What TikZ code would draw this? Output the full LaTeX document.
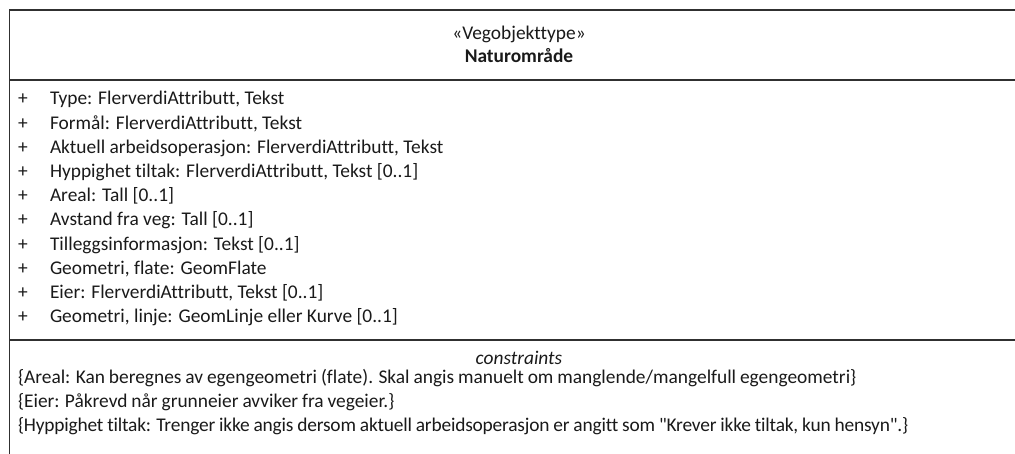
\documentclass[tikz,border=0pt]{standalone}
\usepackage{fontspec}
\setmainfont[Ligatures={TeXOff,NoCommon,NoContextual}]{Carlito}
\definecolor{umltext}{HTML}{1A1A1A}
\definecolor{umlline}{HTML}{303030}
\newcommand{\tightsp}{\spaceskip=3.9pt\relax}
\begin{document}
\begin{tikzpicture}[x=1pt,y=-1pt,
  txt/.style={inner sep=0pt,outer sep=0pt,text=umltext,font=\fontsize{19.4pt}{24pt}\selectfont},
  attr/.style={txt,anchor=base west},
  mid/.style={txt,anchor=base},
  border/.style={draw=umlline,line width=1.3pt}]
\useasboundingbox (0,0) rectangle (1015,454);
\clip (0,0) rectangle (1015,454);
\fill[white] (0,0) rectangle (1015,454);
% class box
\coordinate (tl) at (9.5,10);
\coordinate (tr) at (1030,10);
\coordinate (bl) at (9.5,470);
\coordinate (s1l) at (9.5,80);
\coordinate (s1r) at (1030,80);
\coordinate (s2l) at (9.5,340);
\coordinate (s2r) at (1030,340);
\draw[border] (bl) -- (tl) -- (tr);
\draw[border] (s1l) -- (s1r);
\draw[border] (s2l) -- (s2r);
% header
\node[mid] (stereo) at (519,40) {«Vegobjekttype»};
\node[mid,font=\fontsize{19.4pt}{24pt}\selectfont\bfseries] (name) at (519,62.5) {Naturområde};
% attributes
\foreach \i/\t in {0/{Type: FlerverdiAttributt, Tekst},
  1/{Formål: FlerverdiAttributt, Tekst},
  2/{Aktuell arbeidsoperasjon: FlerverdiAttributt, Tekst},
  3/{Hyppighet tiltak: FlerverdiAttributt, Tekst [0..1]},
  4/{Areal: Tall [0..1]},
  5/{Avstand fra veg: Tall [0..1]},
  6/{Tilleggsinformasjon: Tekst [0..1]},
  7/{Geometri, flate: GeomFlate},
  8/{Eier: FlerverdiAttributt, Tekst [0..1]},
  9/{Geometri, linje: GeomLinje eller Kurve [0..1]}}{
  \node[attr] (plus\i) at (18,105+24.2*\i) {+};
  \node[attr] (attr\i) at (50,105+24.2*\i) {\t};
}
% constraints
\node[mid,font=\fontsize{19.4pt}{24pt}\selectfont\itshape] (constr) at (519,365) {constraints};
\node[attr] (c1) at (18,383) {\tightsp\{Areal: Kan beregnes av egengeometri (flate). Skal angis manuelt om manglende/mangelfull egengeometri\}};
\node[attr] (c2) at (18,407) {\tightsp\{Eier: Påkrevd når grunneier avviker fra vegeier.\}};
\node[attr] (c3) at (18,431) {\addfontfeatures{LetterSpace=-1}\tightsp\{Hyppighet tiltak: Trenger ikke angis dersom aktuell arbeidsoperasjon er angitt som "Krever ikke tiltak, kun hensyn".\}};
\end{tikzpicture}
\end{document}
